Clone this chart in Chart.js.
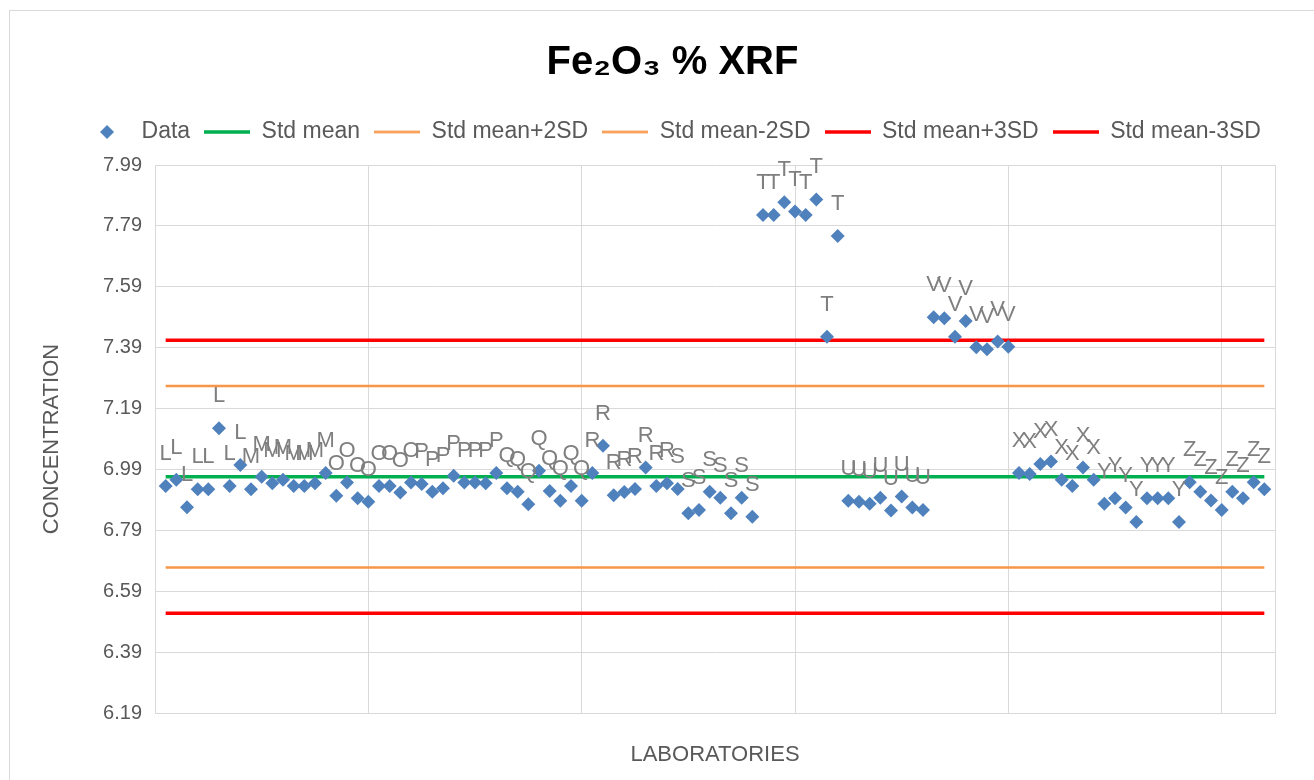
<!DOCTYPE html>
<html>
<head>
<meta charset="utf-8">
<script src="https://cdn.jsdelivr.net/npm/chart.js@4.4.1/dist/chart.umd.min.js"></script>
<style>
html, body { margin: 0; padding: 0; background: #ffffff; overflow: hidden; width: 1314px; height: 780px; }
#frame { position: absolute; left: 9px; top: 10px; width: 1400px; height: 900px; border: 1px solid #d9d9d9; box-sizing: border-box; }
#wrap { position: absolute; left: 0; top: 0; width: 1314px; height: 780px; }
</style>
</head>
<body>
<div id="frame"></div>
<div id="wrap"><canvas id="c" width="1314" height="780"></canvas></div>
<script>
// ---- data ----
const labCodes = [
  'L','L','L','L','L','L','L','L',
  'M','M','M','M','M','M','M','M',
  'O','O','O','O','O','O','O','O',
  'P','P','P','P','P','P','P','P',
  'Q','Q','Q','Q','Q','Q','Q','Q',
  'R','R','R','R','R','R','R','R',
  'S','S','S','S','S','S','S','S',
  'T','T','T','T','T','T','T','T',
  'U','U','U','U','U','U','U','U',
  'V','V','V','V','V','V','V','V',
  'X','X','X','X','X','X','X','X',
  'Y','Y','Y','Y','Y','Y','Y','Y',
  'Z','Z','Z','Z','Z','Z','Z','Z'
];
const feValues = [
  6.936, 6.956, 6.866, 6.925, 6.925, 7.125, 6.936, 7.005,
  6.925, 6.966, 6.945, 6.956, 6.936, 6.936, 6.945, 6.978,
  6.904, 6.947, 6.895, 6.884, 6.936, 6.936, 6.914, 6.947,
  6.942, 6.917, 6.928, 6.969, 6.947, 6.947, 6.945, 6.978,
  6.928, 6.917, 6.876, 6.986, 6.919, 6.887, 6.936, 6.887,
  6.978, 7.068, 6.905, 6.916, 6.926, 6.996, 6.936, 6.945,
  6.926, 6.846, 6.857, 6.917, 6.897, 6.846, 6.897, 6.835,
  7.826, 7.826, 7.868, 7.837, 7.826, 7.877, 7.426, 7.757,
  6.887, 6.884, 6.877, 6.897, 6.855, 6.901, 6.865, 6.857,
  7.490, 7.487, 7.426, 7.478, 7.391, 7.385, 7.410, 7.393,
  6.978, 6.975, 7.008, 7.016, 6.956, 6.936, 6.996, 6.956,
  6.877, 6.895, 6.865, 6.817, 6.895, 6.895, 6.895, 6.817,
  6.948, 6.917, 6.888, 6.857, 6.917, 6.895, 6.948, 6.925
];
const seriesNames = ['Data', 'Std mean', 'Std mean+2SD', 'Std mean-2SD', 'Std mean+3SD', 'Std mean-3SD'];
const limitValues = [6.966, 7.264, 6.668, 7.414, 6.518]; // mean, +2SD, -2SD, +3SD, -3SD
const yTickValues = [6.19, 6.39, 6.59, 6.79, 6.99, 7.19, 7.39, 7.59, 7.79, 7.99];
const xGridValues = [0, 20, 40, 60, 80, 100, 105];

// ---- styling ----
const lineColors = ['#00b050', '#f79646', '#f79646', '#ff0000', '#ff0000'];
const lineWidths = [3.5, 2.5, 2.5, 3.5, 3.5];
const markerColor = '#4f81bd';
const textGrey = '#595959';
const FONT = "'Liberation Sans', Arial, sans-serif";

const labIndex = labCodes.map((_, i) => i + 1);
const firstLab = labIndex[0];
const lastLab = labIndex[labIndex.length - 1];

function diamondImage(color, r) {
  const c = document.createElement('canvas');
  c.width = 2 * r; c.height = 2 * r;
  const g = c.getContext('2d');
  g.fillStyle = color;
  g.beginPath();
  g.moveTo(r, 0); g.lineTo(2 * r, r); g.lineTo(r, 2 * r); g.lineTo(0, r);
  g.closePath(); g.fill();
  return c;
}
function lineImage(color, w, h) {
  const c = document.createElement('canvas');
  c.width = w; c.height = Math.ceil(h) + 2;
  const g = c.getContext('2d');
  g.fillStyle = color;
  g.fillRect(0, (c.height - h) / 2, w, h);
  return c;
}
const legendStyles = [diamondImage(markerColor, 7)].concat(
  lineColors.map((col, i) => lineImage(col, 46, lineWidths[i]))
);

const datasets = [{
  label: seriesNames[0],
  data: labIndex.map((x, i) => ({ x: x, y: feValues[i] })),
  pointStyle: 'rectRot',
  pointRadius: 7,
  pointHoverRadius: 7,
  backgroundColor: markerColor,
  borderColor: markerColor,
  borderWidth: 0,
  showLine: false
}];
limitValues.forEach((v, i) => {
  datasets.push({
    label: seriesNames[i + 1],
    data: [{ x: firstLab, y: v }, { x: lastLab, y: v }],
    showLine: true,
    borderColor: lineColors[i],
    backgroundColor: lineColors[i],
    borderWidth: lineWidths[i],
    pointRadius: 0,
    pointHoverRadius: 0,
    fill: false
  });
});

const pointLabels = {
  id: 'pointLabels',
  afterDatasetsDraw(chart) {
    const meta = chart.getDatasetMeta(0);
    const ctx = chart.ctx;
    ctx.save();
    ctx.font = '22px ' + FONT;
    ctx.fillStyle = '#7f7f7f';
    ctx.textAlign = 'center';
    ctx.textBaseline = 'alphabetic';
    meta.data.forEach((el, i) => {
      ctx.fillText(labCodes[i], el.x, el.y - 26);
    });
    ctx.restore();
  }
};

const legendSpacer = {
  id: 'legendSpacer',
  beforeUpdate(chart) {
    const lg = chart.legend;
    if (lg && !lg._spaced) {
      const fit = lg.fit;
      lg.fit = function () { fit.call(this); this.height += 11.5; };
      lg._spaced = true;
    }
  }
};

new Chart(document.getElementById('c'), {
  type: 'scatter',
  data: { datasets: datasets },
  options: {
    responsive: false,
    animation: false,
    events: [],
    layout: { padding: { left: 70, right: 39, top: 0, bottom: 0 } },
    plugins: {
      title: {
        display: true,
        text: 'Fe\u2082O\u2083 % XRF',
        color: '#000000',
        font: { family: FONT, size: 40, weight: 'bold' },
        padding: { top: 39, bottom: 19.5 }
      },
      legend: {
        display: true,
        position: 'top',
        labels: {
          usePointStyle: true,
          pointStyleWidth: 46,
          padding: 14,
          color: textGrey,
          font: { family: FONT, size: 23 },
          generateLabels: (chart) => chart.data.datasets.map((ds, i) => ({
            text: ds.label,
            pointStyle: legendStyles[i],
            fillStyle: ds.borderColor,
            strokeStyle: ds.borderColor,
            lineWidth: 0,
            hidden: false,
            datasetIndex: i,
            fontColor: textGrey
          }))
        }
      },
      tooltip: { enabled: false }
    },
    scales: {
      x: {
        type: 'linear',
        min: 0,
        max: 105,
        afterBuildTicks: (axis) => { axis.ticks = xGridValues.map(v => ({ value: v })); },
        afterFit: (s) => { s.height = 67; },
        ticks: { display: false },
        grid: { color: '#d9d9d9', lineWidth: 1, drawTicks: false },
        border: { color: '#d9d9d9', width: 1 },
        title: {
          display: true,
          text: 'LABORATORIES',
          color: textGrey,
          font: { family: FONT, size: 22 },
          padding: { top: 0, bottom: 11.8 }
        }
      },
      y: {
        type: 'linear',
        min: 6.19,
        max: 7.99,
        afterBuildTicks: (axis) => { axis.ticks = yTickValues.map(v => ({ value: v })); },
        afterFit: (s) => { s.width = 85; },
        ticks: {
          padding: 13,
          color: textGrey,
          font: { family: FONT, size: 20 },
          callback: (v) => Number(v).toFixed(2)
        },
        grid: { color: '#d9d9d9', lineWidth: 1, drawTicks: false },
        border: { color: '#d9d9d9', width: 1 },
        title: {
          display: true,
          text: 'CONCENTRATION',
          color: textGrey,
          font: { family: FONT, size: 22 },
          padding: { top: -31.2, bottom: 0 }
        }
      }
    }
  },
  plugins: [pointLabels, legendSpacer]
});
</script>
</body>
</html>
